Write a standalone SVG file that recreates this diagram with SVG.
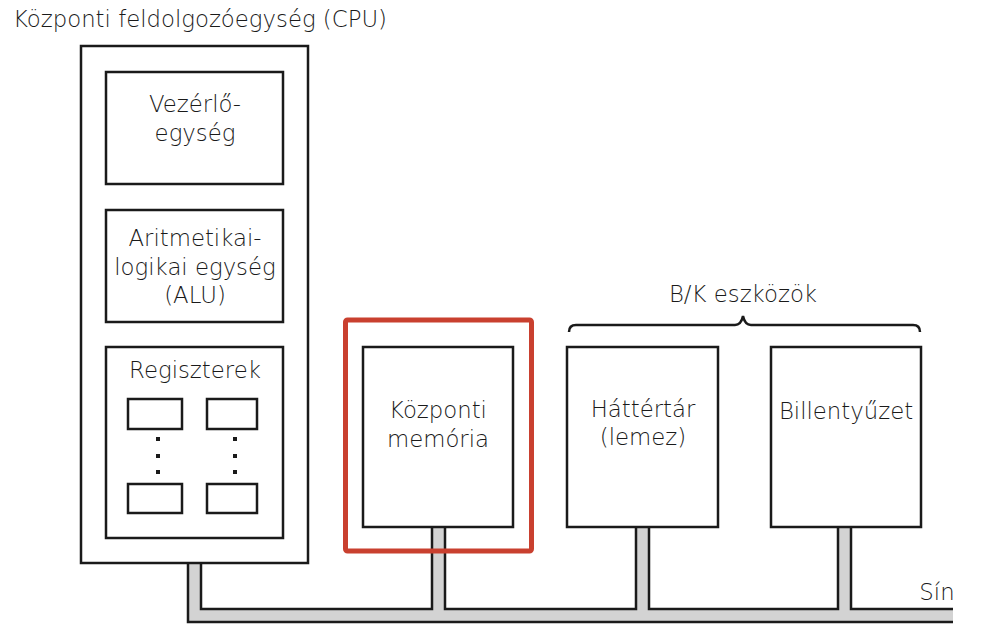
<svg xmlns="http://www.w3.org/2000/svg" width="986" height="631" viewBox="0 0 986 631">
<style>
.box{fill:#fff;stroke:#1a1a1a;stroke-width:2.5}
.t{font-family:"DejaVu Sans",sans-serif;font-size:22.8px;font-weight:300;fill:#1a1a1a;text-anchor:middle}
.ln{fill:none;stroke:#1a1a1a;stroke-width:2.5}
</style>
<rect width="986" height="631" fill="#fff"/>
<g id="connectors">
<path d="M188 563 V622 H953 V609 H851 V527 H838 V609 H649 V527 H636 V609 H445 V527 H432 V609 H201 V563 Z" fill="#d3d3d3"/>
<polyline class="ln" points="188,563 188,622 953,622"/>
<polyline class="ln" points="201,563 201,609 432,609 432,527"/>
<polyline class="ln" points="445,527 445,609 636,609 636,527"/>
<polyline class="ln" points="649,527 649,609 838,609 838,527"/>
<polyline class="ln" points="851,527 851,609 953,609"/>
<text class="t" x="937" y="600">Sín</text>
</g>
<g id="cpu">
<rect class="box" x="81" y="46" width="227" height="517"/>
<text class="t" x="200" y="27">Központi feldolgozóegység (CPU)</text>
</g>
<g id="vezerlo">
<rect class="box" x="106" y="72" width="177" height="112"/>
<text class="t" x="195" y="112">Vezérlő-</text>
<text class="t" x="195" y="141">egység</text>
</g>
<g id="alu">
<rect class="box" x="106" y="210" width="177" height="112"/>
<text class="t" x="195" y="246">Aritmetikai-</text>
<text class="t" x="195" y="275">logikai egység</text>
<text class="t" x="195" y="303">(ALU)</text>
</g>
<g id="regiszterek">
<rect class="box" x="106" y="347" width="177" height="191"/>
<text class="t" x="195" y="378">Regiszterek</text>
<rect class="box" x="128" y="399" width="54" height="30"/>
<rect class="box" x="207" y="399" width="50" height="30"/>
<rect class="box" x="128" y="484" width="54" height="29"/>
<rect class="box" x="207" y="484" width="50" height="29"/>
<g fill="#1a1a1a">
<rect x="156" y="437" width="4" height="4"/>
<rect x="156" y="454" width="4" height="4"/>
<rect x="156" y="470" width="4" height="4"/>
<rect x="233" y="437" width="4" height="4"/>
<rect x="233" y="454" width="4" height="4"/>
<rect x="233" y="470" width="4" height="4"/>
</g>
</g>
<g id="memoria">
<rect x="345.5" y="320" width="186" height="231" rx="2" fill="none" stroke="#c9402f" stroke-width="5"/>
<rect class="box" x="363" y="347" width="150" height="180"/>
<text class="t" x="438" y="418">Központi</text>
<text class="t" x="438" y="447">memória</text>
</g>
<g id="bk">
<path class="ln" d="M569 332 Q569 325 576 325 H735 Q741 325 743 316 Q745 325 751 325 H913 Q920 325 920 332" stroke-width="2"/>
<text class="t" x="743" y="302">B/K eszközök</text>
</g>
<g id="hattertar">
<rect class="box" x="567" y="347" width="151" height="180"/>
<text class="t" x="643" y="417">Háttértár</text>
<text class="t" x="643" y="445">(lemez)</text>
</g>
<g id="billentyuzet">
<rect class="box" x="771" y="347" width="150" height="180"/>
<text class="t" x="846" y="419">Billentyűzet</text>
</g>
</svg>
